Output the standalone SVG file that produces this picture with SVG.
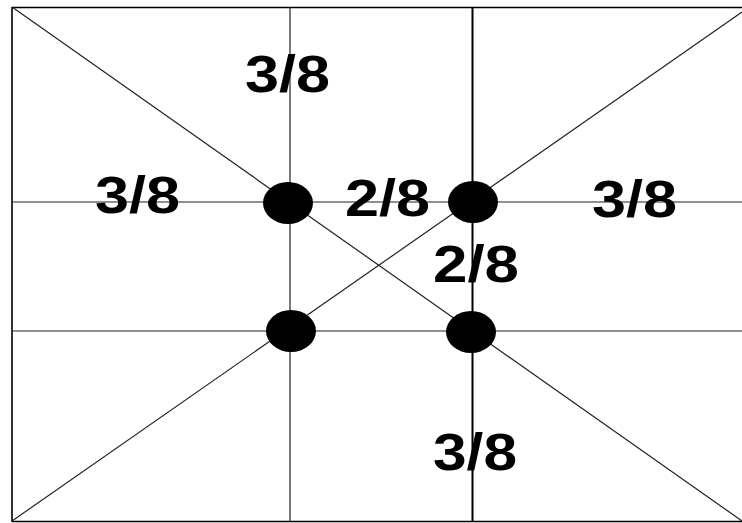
<svg xmlns="http://www.w3.org/2000/svg" width="742" height="523" viewBox="0 0 742 523">
<style>
.ln{stroke:#222;stroke-width:1.2;fill:none}
.dot{fill:#000}
.lbl{font-family:"Liberation Sans",Arial,sans-serif;font-weight:bold;font-size:52px;fill:#000;text-anchor:middle}
</style>
<rect width="742" height="523" fill="#fff"/>
<g id="connectors">
<path class="ln" d="M12 7.5H742M12 7V522M12 521.5H742" style="stroke:#000;stroke-width:1.6"/>
<line class="ln" x1="12" y1="7" x2="742" y2="521"/>
<line class="ln" x1="12" y1="521" x2="742" y2="12"/>
<line class="ln" x1="290" y1="7" x2="290" y2="522"/>
<line class="ln" x1="472.5" y1="7" x2="472.5" y2="522" style="stroke:#000;stroke-width:2"/>
<line class="ln" x1="12" y1="202" x2="742" y2="202"/>
<line class="ln" x1="12" y1="331" x2="742" y2="331"/>
</g>
<g id="dot-tl"><ellipse class="dot" cx="288" cy="203" rx="25" ry="21"/></g>
<g id="dot-tr"><ellipse class="dot" cx="473" cy="202" rx="25" ry="21"/></g>
<g id="dot-bl"><ellipse class="dot" cx="291" cy="331" rx="25" ry="21"/></g>
<g id="dot-br"><ellipse class="dot" cx="471" cy="332" rx="25" ry="21"/></g>
<g id="label-top"><text class="lbl" x="287.5" y="92" textLength="85" lengthAdjust="spacingAndGlyphs">3/8</text></g>
<g id="label-left"><text class="lbl" x="137.5" y="213" textLength="85" lengthAdjust="spacingAndGlyphs">3/8</text></g>
<g id="label-mid"><text class="lbl" x="387.5" y="216" textLength="85" lengthAdjust="spacingAndGlyphs">2/8</text></g>
<g id="label-right"><text class="lbl" x="634.5" y="217" textLength="85" lengthAdjust="spacingAndGlyphs">3/8</text></g>
<g id="label-mid-low"><text class="lbl" x="476" y="282" textLength="86" lengthAdjust="spacingAndGlyphs">2/8</text></g>
<g id="label-bottom"><text class="lbl" x="475" y="470" textLength="84" lengthAdjust="spacingAndGlyphs">3/8</text></g>
</svg>
